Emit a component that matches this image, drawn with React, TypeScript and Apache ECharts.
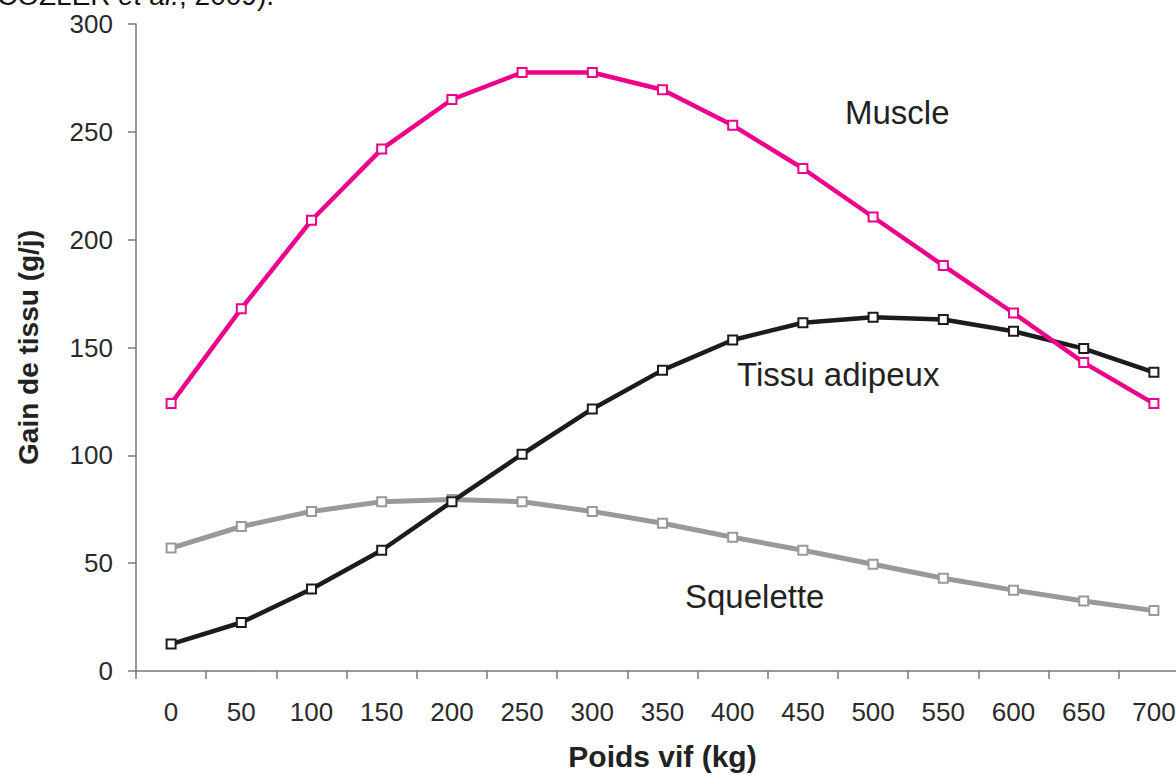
import React, { useEffect, useRef } from "react";
import * as echarts from "echarts";

const categories = ["0", "50", "100", "150", "200", "250", "300", "350", "400", "450", "500", "550", "600", "650", "700"];
const muscle = [124, 168, 209, 242, 265, 277.5, 277.5, 269.5, 253, 233, 210.5, 188, 166, 143, 124];
const tissuAdipeux = [12.5, 22.5, 38, 56, 78.5, 100.5, 121.5, 139.5, 153.5, 161.5, 164, 163, 157.5, 149.5, 138.5];
const squelette = [57, 67, 74, 78.5, 79.5, 78.5, 74, 68.5, 62, 56, 49.5, 43, 37.5, 32.5, 28];

const FONT = "'Liberation Sans', Arial, Helvetica, sans-serif";

export default function App() {
  const ref = useRef<HTMLDivElement>(null);
  useEffect(() => {
    if (!ref.current) return;
    const chart = echarts.init(ref.current, undefined, { renderer: "svg" });
    const mk = (name: string, data: number[], color: string, width: number, z: number) => ({
      name,
      type: "line",
      data,
      z,
      symbol: "rect",
      symbolSize: 9,
      lineStyle: { color, width },
      itemStyle: { color: "#ffffff", borderColor: color, borderWidth: 2 },
    });
    chart.setOption({
      animation: false,
      backgroundColor: "#ffffff",
      textStyle: { fontFamily: FONT },
      grid: { left: 136, top: 24, bottom: 104, width: 1053, containLabel: false, outerBoundsMode: "none" },
      xAxis: {
        type: "category",
        data: categories,
        boundaryGap: true,
        name: "Poids vif (kg)",
        nameLocation: "middle",
        nameGap: 70,
        nameTextStyle: { fontFamily: FONT, fontSize: 30, fontWeight: "bold", color: "#222222" },
        axisLine: { lineStyle: { color: "#777777", width: 1.5 } },
        axisTick: { show: true, length: 8, inside: false, alignWithLabel: false, lineStyle: { color: "#777777", width: 1.5 } },
        axisLabel: { fontFamily: FONT, fontSize: 26, color: "#2a2a2a", margin: 28, interval: 0 },
        splitLine: { show: false },
      },
      yAxis: {
        type: "value",
        min: 0,
        max: 300,
        interval: 50,
        name: "Gain de tissu (g/j)",
        nameLocation: "middle",
        nameGap: 94,
        nameRotate: 90,
        nameTextStyle: { fontFamily: FONT, fontSize: 28, fontWeight: "bold", color: "#222222" },
        axisLine: { show: true, lineStyle: { color: "#777777", width: 1.5 } },
        axisTick: { show: true, length: 8, lineStyle: { color: "#777777", width: 1.5 } },
        axisLabel: { fontFamily: FONT, fontSize: 26, color: "#2a2a2a", margin: 23 },
        splitLine: { show: false },
      },
      series: [
        mk("Squelette", squelette, "#999999", 5, 2),
        mk("Tissu adipeux", tissuAdipeux, "#1c1c1c", 4.5, 3),
        mk("Muscle", muscle, "#ec008c", 4.5, 4),
      ],
      graphic: [
        {
          type: "text",
          left: 845,
          top: 96,
          style: { text: "Muscle", font: `33px ${FONT}`, fill: "#222222" },
        },
        {
          type: "text",
          left: 737,
          top: 358,
          style: { text: "Tissu adipeux", font: `33px ${FONT}`, fill: "#222222" },
        },
        {
          type: "text",
          left: 685,
          top: 580,
          style: { text: "Squelette", font: `33px ${FONT}`, fill: "#222222" },
        },
        {
          type: "text",
          x: -3,
          y: 9,
          style: {
            text: "{n|COZLER }{i|et al.}{n|, 2009).}",
            verticalAlign: "bottom",
            rich: {
              n: { fontFamily: FONT, fontSize: 28, fill: "#111111", color: "#111111" },
              i: { fontFamily: FONT, fontSize: 28, fontStyle: "italic", fill: "#111111", color: "#111111" },
            },
          },
        },
      ],
    });
    return () => chart.dispose();
  }, []);
  return <div ref={ref} style={{ position: "fixed", left: 0, top: 0, width: 1176, height: 775 }} />;
}
